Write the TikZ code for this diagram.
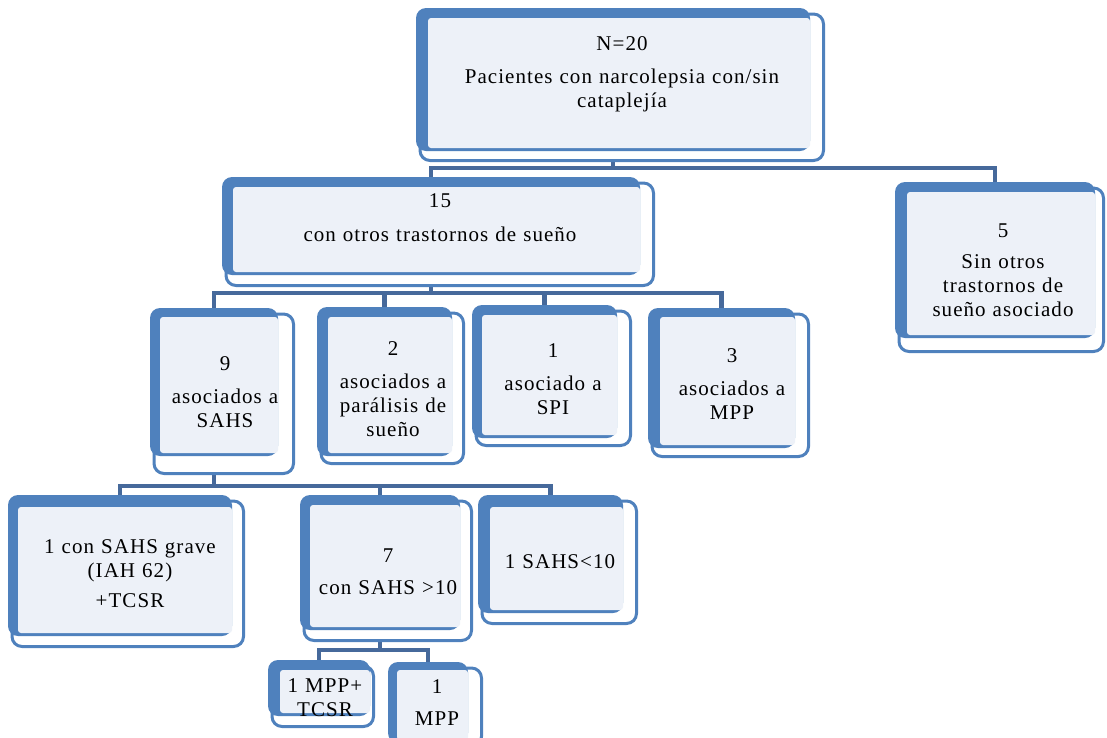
\documentclass[tikz,border=0pt]{standalone}
\usepackage{fontspec}
\setmainfont{Liberation Serif}[LetterSpace=5]
\usetikzlibrary{backgrounds}
\definecolor{sblue}{HTML}{4F81BD}
\definecolor{cblue}{HTML}{46699B}
\definecolor{lfill}{HTML}{EDF1F8}
\tikzset{
  framebox/.style={draw=sblue, line width=3pt, fill=white, rounded corners=10pt},
  shadowbox/.style={rectangle, fill=sblue, rounded corners=10pt, inner sep=0pt, draw=none},
  fillbox/.style={fill=lfill, rounded corners=3pt},
  lbl/.style={anchor=base, align=center, text width=400pt, inner sep=0pt, font=\fontsize{21}{24}\selectfont},
  conn/.style={draw=cblue, line width=4.5pt},
}
% name, x1, y1, x2, y2 (outer), fx1, fy1, fx2, fy2 (inner fill)
\newcommand{\smbox}[9]{%
  \path[framebox] (#2+4,#3+6) rectangle (#4-1.5,#5-1.5);
  \node[shadowbox, minimum width=#8-#2, minimum height=#9+3-#3] (#1) at ({(#2+#8)/2},{(#3+#9+3)/2}) {};
  \path[fillbox] (#6,#7) rectangle (#8,#9);
}
\begin{document}
\begin{tikzpicture}[x=1pt,y=-1pt]
\useasboundingbox (0,0) rectangle (1107,737);

\smbox{A}{416}{8}{825}{162}{428}{18}{810}{148}
\smbox{B}{222}{177}{655}{287}{233}{187}{640}{272}
\smbox{C}{895}{182}{1105}{353}{907}{192}{1095}{335}
\smbox{D}{150}{308}{295}{475}{160}{317}{278}{453}
\smbox{E}{317}{307}{465}{465}{328}{317}{452}{453}
\smbox{F}{472}{305}{632}{447}{482}{315}{617}{435}
\smbox{G}{648}{308}{810}{458}{660}{317}{795}{445}
\smbox{H}{8}{495}{245}{648}{18}{507}{232}{633}
\smbox{I}{300}{495}{473}{642}{310}{505}{460}{627}
\smbox{J}{478}{495}{638}{625}{490}{507}{623}{610}
\smbox{K}{268}{660}{375}{728}{280}{670}{370}{713}
\smbox{L}{388}{662}{483}{748}{397}{670}{468}{740}

\node[lbl] (At) at (622,50) {N=20\\[9pt]Pacientes con narcolepsia con/sin\\cataplejía};
\node[lbl] (Bt) at (440,207) {15\\[10pt]con otros trastornos de sueño};
\node[lbl] (Ct) at (1003,237) {5\\[7pt]Sin otros\\trastornos de\\sueño asociado};
\node[lbl] (Dt) at (225,370) {9\\[9pt]asociados a\\SAHS};
\node[lbl] (Et) at (393,355) {2\\[9pt]asociados a\\parálisis de\\sueño};
\node[lbl] (Ft) at (553,357) {1\\[9pt]asociado a\\SPI};
\node[lbl] (Gt) at (732,362) {3\\[9pt]asociados a\\MPP};
\node[lbl] (Ht) at (130,553) {1 con SAHS grave\\(IAH 62)\\[6pt]+TCSR};
\node[lbl] (It) at (388,562) {7\\[8pt]con SAHS >10};
\node[lbl] (Jt) at (560,568) {1 SAHS<10};
\node[lbl] (Kt) at (325,692) {1 MPP+\\TCSR};
\node[lbl] (Lt) at (437,693) {1\\[8pt]MPP};

\coordinate (busA) at (0,168);
\coordinate (busB) at (0,293);
\coordinate (busD) at (0,486);
\coordinate (busI) at (0,650);
\begin{pgfonlayer}{background}
  \draw[conn] (A.south) -- (A.south |- busA) -| (B.north);
  \draw[conn] (A.south |- busA) -| (C.north);
  \draw[conn] (B.south) -- (B.south |- busB) -| (D.north);
  \draw[conn] (B.south |- busB) -| (E.north);
  \draw[conn] (B.south |- busB) -| (F.north);
  \draw[conn] (B.south |- busB) -| (G.north);
  \draw[conn] (D.south) -- (D.south |- busD) -| (H.north);
  \draw[conn] (D.south |- busD) -| (I.north);
  \draw[conn] (D.south |- busD) -| (J.north);
  \draw[conn] (I.south) -- (I.south |- busI) -| (K.north);
  \draw[conn] (I.south |- busI) -| (L.north);
\end{pgfonlayer}
\end{tikzpicture}
\end{document}
